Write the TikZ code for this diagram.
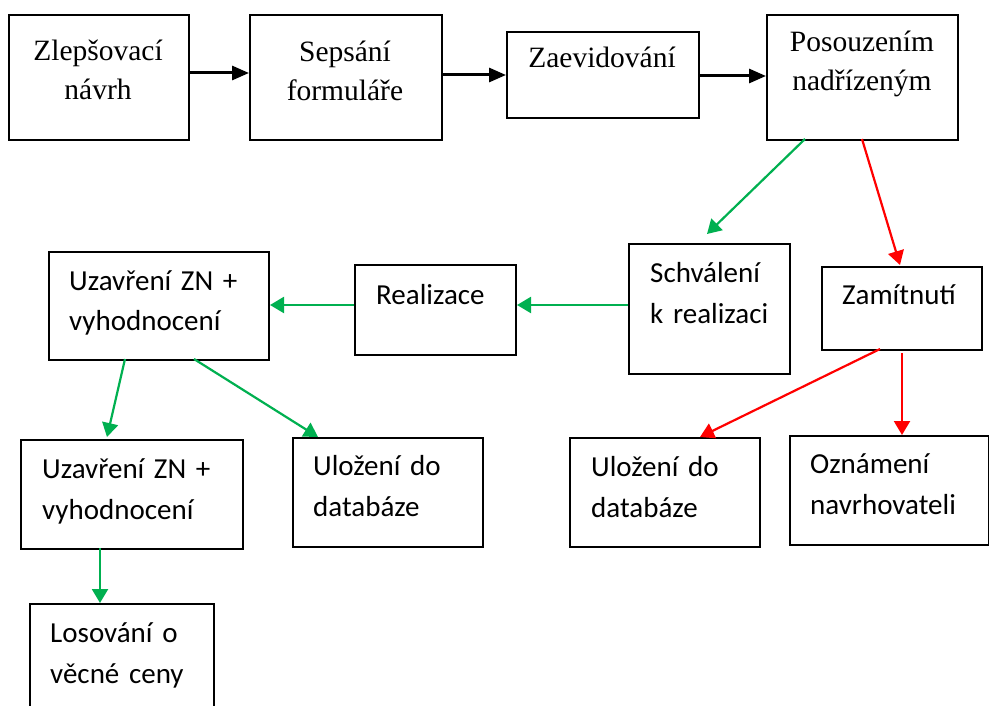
\documentclass[tikz,border=0pt]{standalone}
\usepackage{fontspec}
\setmainfont{Liberation Serif}
\newfontfamily\calib{Carlito}
\usetikzlibrary{arrows.meta}
\definecolor{ogreen}{RGB}{0,176,80}
\definecolor{ored}{RGB}{255,0,0}
\tikzset{
  box/.style={draw=black, line width=2pt, inner sep=0pt, anchor=north west, rectangle},
  stxt/.style={font=\fontsize{29.5}{39}\selectfont, anchor=base, align=center, inner sep=0pt, text width=6cm},
  ctxt/.style={font=\calib\fontsize{29}{41}\selectfont, anchor=base west, align=left, inner sep=0pt, text width=6cm},
  karrow/.style={line width=3pt, -{Triangle[length=17pt,width=14pt]}},
  garrow/.style={draw=ogreen, line width=2.2pt, -{Triangle[length=14pt,width=16pt]}, ogreen},
  rarrow/.style={draw=ored, line width=2.2pt, -{Triangle[length=14pt,width=16pt]}, ored}
}
\begin{document}
\begin{tikzpicture}[x=1pt,y=-1pt]
\useasboundingbox (0,0) rectangle (989,706);
\clip (0,0) rectangle (989,706);
% top row
\node[box, minimum width=180pt, minimum height=125pt] (b1) at (8,14) {};
\node[box, minimum width=192pt, minimum height=125pt] (b2) at (249,14) {};
\node[box, minimum width=192pt, minimum height=86pt] (b3) at (506,31) {};
\node[box, minimum width=191pt, minimum height=125pt] (b4) at (766,14) {};
\node[stxt] (t1) at (98,61) {Zlepšovací\\návrh};
\node[stxt] (t2) at (345,62) {Sepsání\\formuláře};
\node[stxt] (t3) at (602,68) {Zaevidování};
\node[stxt] (t4) at (862,52) {Posouzením\\nadřízeným};
% middle row
\node[box, minimum width=161pt, minimum height=130pt] (sch) at (628,243) {};
\node[box, minimum width=160pt, minimum height=83pt] (zam) at (821,266) {};
\node[box, minimum width=161pt, minimum height=90pt] (real) at (354,264) {};
\node[box, minimum width=220pt, minimum height=108pt] (uz1) at (48,251) {};
\node[ctxt] (tsch) at (650,282) {Schválení\\k realizaci};
\node[ctxt] (tzam) at (842,304) {Zamítnutí};
\node[ctxt] (treal) at (376,304) {Realizace};
\node[ctxt] (tuz1) at (69,290) {Uzavření ZN +\\vyhodnocení};
% lower row
\node[box, minimum width=222pt, minimum height=109pt] (uz2) at (20,439) {};
\node[box, minimum width=190pt, minimum height=109pt] (ulL) at (292,437) {};
\node[box, minimum width=190pt, minimum height=109pt] (ulR) at (569,437) {};
\node[box, minimum width=199pt, minimum height=109pt] (ozn) at (789,435) {};
\node[box, minimum width=184pt, minimum height=112pt] (los) at (29,603) {};
\node[ctxt] (tuz2) at (42,478) {Uzavření ZN +\\vyhodnocení};
\node[ctxt] (tulL) at (313,475) {Uložení do\\databáze};
\node[ctxt] (tulR) at (591,476) {Uložení do\\databáze};
\node[ctxt] (tozn) at (810,473) {Oznámení\\navrhovateli};
\node[ctxt] (tlos) at (50,642) {Losování o\\věcné ceny};
% coordinates for connector ends
\coordinate (b4g) at (805,139);
\coordinate (b4r) at (862,139);
\coordinate (schT) at (707,234);
\coordinate (zamT) at (900,265);
\coordinate (uz1a) at (125,359);
\coordinate (uz1b) at (194,359);
\coordinate (uz2T) at (107,437);
\coordinate (ulLT) at (318,437);
\coordinate (zama) at (880,349);
\coordinate (zamb) at (902,353);
\coordinate (ulRT) at (700,437);
\coordinate (oznT) at (902,435);
\coordinate (uz2b) at (100,548);
% connectors
\draw[karrow] (b1.east |- 0,73) -- (b2.west |- 0,73);
\draw[karrow] (b2.east |- 0,75) -- (b3.west |- 0,75);
\draw[karrow] (b3.east |- 0,76) -- (b4.west |- 0,76);
\draw[garrow] (b4g) -- (schT);
\draw[rarrow] (b4r) -- (zamT);
\draw[garrow] (sch.west |- 0,305) -- (real.east |- 0,305);
\draw[garrow] (real.west |- 0,305) -- (uz1.east |- 0,305);
\draw[garrow] (uz1a) -- (uz2T);
\draw[garrow] (uz1b) -- (ulLT);
\draw[garrow] (uz2b) -- (uz2b |- los.north);
\draw[rarrow] (zama) -- (ulRT);
\draw[rarrow] (zamb) -- (oznT);
\end{tikzpicture}
\end{document}
